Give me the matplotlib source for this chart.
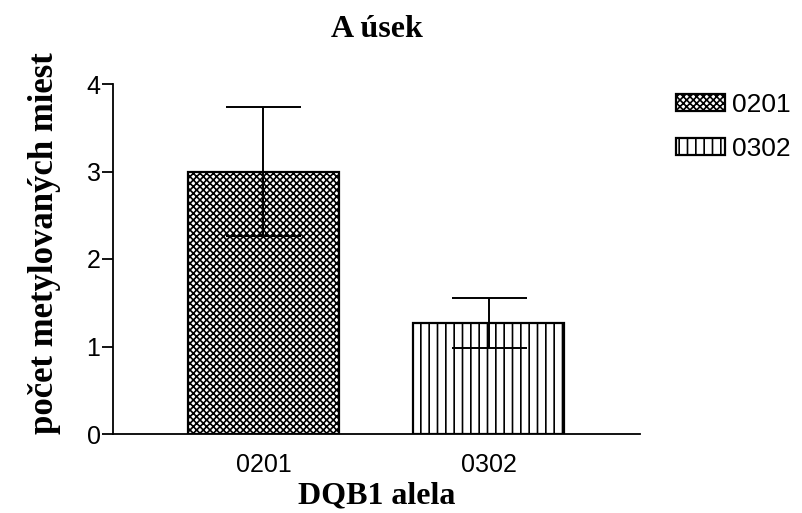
import matplotlib
matplotlib.use("Agg")
import matplotlib.pyplot as plt

alleles = ["0201", "0302"]
means = [3.0, 1.27]
errors = [0.74, 0.29]
hatches = ["xxxxx", "||"]

plt.rcParams["hatch.linewidth"] = 1.2

fig = plt.figure(figsize=(8.02, 5.13), dpi=100)
ax = fig.add_axes([113 / 802, 79 / 513, 527 / 802, 350 / 513])

x = list(range(len(alleles)))
for i in x:
    ax.bar(i, means[i], width=0.67, color="white", edgecolor="black",
           linewidth=1.6, hatch=hatches[i], label=alleles[i], zorder=2)
    ax.errorbar(i, means[i], yerr=errors[i], fmt="none", ecolor="black",
                elinewidth=1.4, capsize=27, capthick=1.4, zorder=3)

ax.set_xlim(-0.667, 1.67)
ax.set_ylim(0, 4)
ax.set_yticks([0, 1, 2, 3, 4])
ax.set_xticks(x)
ax.set_xticklabels(alleles)

for s in ["top", "right"]:
    ax.spines[s].set_visible(False)
for s in ["left", "bottom"]:
    ax.spines[s].set_linewidth(1.3)

ax.tick_params(axis="y", length=8, width=1.3, labelsize=18, pad=1)
ax.tick_params(axis="x", length=0, labelsize=18, pad=14)
for lab in ax.get_xticklabels() + ax.get_yticklabels():
    lab.set_family("Liberation Sans")

serif_bold = dict(family="Liberation Serif", fontweight="bold", fontsize=23)
ax.set_title("A úsek", pad=34, **serif_bold)
ax.set_xlabel("DQB1 alela", labelpad=3, **serif_bold)
ax.set_ylabel("počet metylovaných miest", **{**serif_bold, "fontsize": 25})
ax.yaxis.set_label_coords(-0.098, 0.546)

fig.legend(loc="upper left", bbox_to_anchor=(652 / 802, 1 - 69 / 513),
           frameon=False, prop={"family": "Liberation Sans", "size": 19},
           handlelength=1.85, handleheight=0.6, handletextpad=0.3,
           labelspacing=0.75)

fig.savefig("out.png", dpi=100)
